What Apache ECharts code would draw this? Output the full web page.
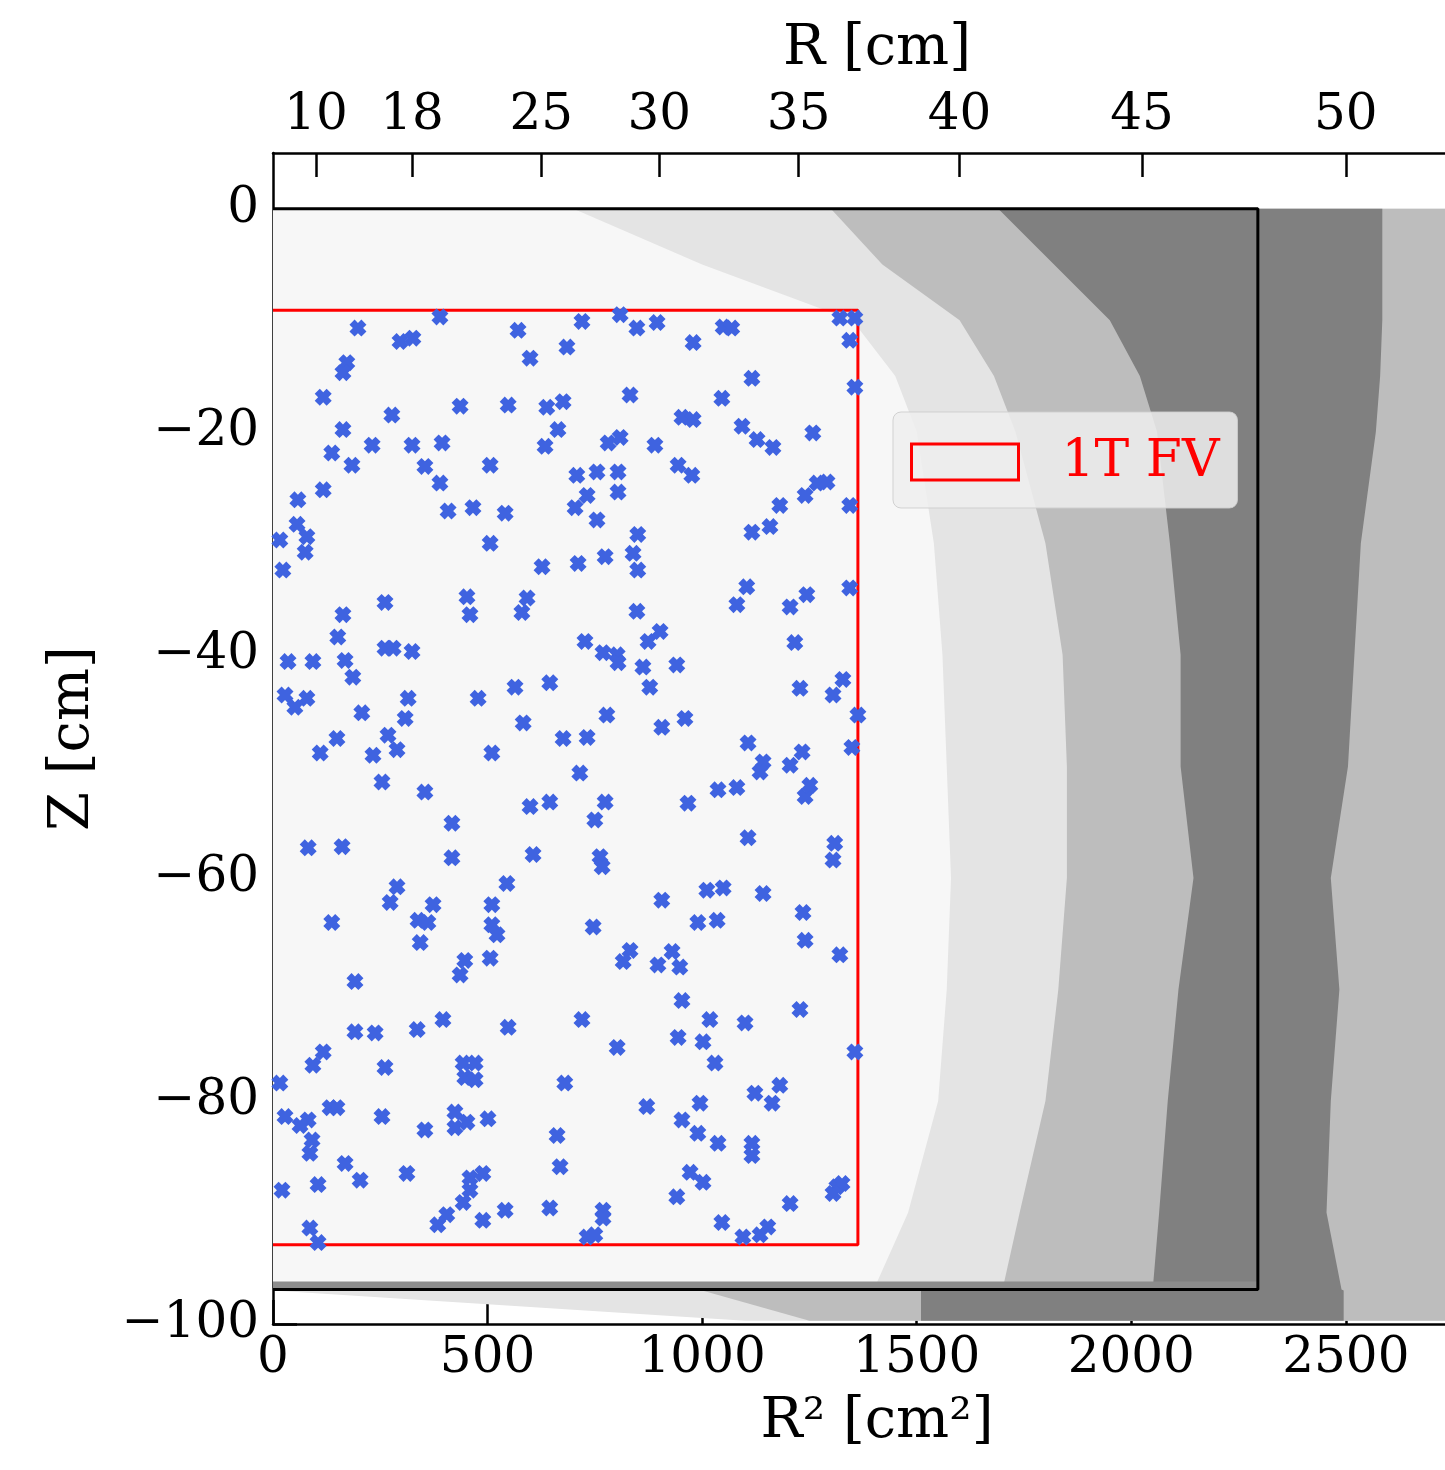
<!DOCTYPE html>
<html>
<head>
<meta charset="utf-8">
<script src="https://cdn.jsdelivr.net/npm/echarts@6/dist/echarts.min.js"></script>
<style>
html, body { margin: 0; padding: 0; background: #fff; }
#chart { width: 1445px; height: 1470px; }
</style>
</head>
<body>
<div id="chart"></div>
<script>
// axis ranges
var r2Max = 2815;
var zMin = -100, zMax = 5;
var rTickValues = [10, 18, 25, 30, 35, 40, 45, 50];   // top axis, R [cm]

// TPC boundary and 1T fiducial volume
var tpcR2 = 2295, tpcZBottom = -96.9;
var fvR2 = 1363, fvZTop = -9.1, fvZBottom = -92.9;

var zLevels   = [0, -5, -10, -15, -20, -30, -40, -50, -60, -70, -80, -90, -96.9, -97.0, -99.7];
var coreLeft  = [1690, 1820, 1950, 2020, 2060, 2090, 2115, 2115, 2145, 2110, 2085, 2065, 2050, 1510, 1510];
var coreRight = [2585, 2585, 2585, 2580, 2570, 2535, 2520, 2505, 2465, 2485, 2465, 2455, 2490, 2495, 2495];
var midLeft   = [1300, 1420, 1600, 1680, 1730, 1800, 1840, 1850, 1850, 1830, 1800, 1740, 1700, 1000, 1250];
var lightLeft = [700, 1000, 1350, 1450, 1500, 1540, 1560, 1570, 1580, 1570, 1550, 1480, 1400, 0, 1100];
var floorZ = [-96.2, -96.9];

// events inside the FV (blue x)
var evR2 = [
  389,198,296,326,571,599,685,172,163,117,436,548,638,676,277,163,664,634,231,324,394,137,184,354,506,389,117,58,408,466,541,56,79,16,75,506,23,627,261,452,592,163,459,580,
  720,809,848,895,979,1049,1069,1321,1356,1344,1116,1356,832,1046,953,979,781,809,890,1093,1128,1165,1258,944,976,708,755,804,804,732,704,755,1181,1240,1268,1291,1344,1116,1158,850,839,850,774,711,1104,1081,1205,1244,1344,848,
  151,261,280,324,35,93,168,186,28,79,51,207,315,308,268,149,110,233,289,254,354,478,564,645,583,676,510,417,599,645,82,161,417,606,545,289,273,373,510,137,338,361,510,
  727,769,802,804,874,902,862,941,878,1216,1228,1305,1328,1363,1349,778,906,960,732,1107,1142,1135,1205,1233,715,1037,1081,967,1240,1251,774,750,1107,1309,1305,762,767,1011,1049,1142,906,1235,990,1035,746,
  522,343,447,436,506,191,191,238,336,396,548,117,93,261,443,471,447,471,16,680,133,149,28,82,63,91,86,254,354,424,424,452,501,662,168,203,312,105,21,459,489,459,443,669,541,645,405,384,489,86,105,
  1240,1321,832,816,897,930,948,953,1228,720,1018,1100,944,1002,802,1356,1030,1123,1181,1163,995,871,953,990,1037,1116,1116,972,1002,1314,1326,1305,941,1205,769,769,1046,732,750,1095,1135,1153
];
var evZ = [
  -9.7,-10.7,-11.9,-11.6,-10.9,-13.4,-12.4,-13.8,-14.7,-16.9,-17.7,-17.6,-17.8,-17.3,-18.5,-19.8,-19.8,-21.3,-21.2,-21.2,-21.0,-21.9,-23.0,-23.1,-23.0,-24.6,-25.2,-26.1,-27.1,-26.8,-27.3,-28.3,-29.4,-29.7,-30.8,-30.0,-32.4,-32.1,-35.3,-34.8,-34.9,-36.4,-36.4,-36.2,
  -10.1,-9.5,-10.7,-10.2,-12.0,-10.6,-10.7,-9.8,-9.8,-11.8,-15.2,-16.0,-16.7,-17.0,-18.7,-18.9,-21.0,-20.5,-21.2,-19.5,-20.7,-21.4,-20.1,-23.0,-23.9,-23.9,-23.6,-23.6,-25.4,-25.7,-26.8,-27.9,-26.6,-25.7,-24.6,-24.5,-26.6,-29.0,-28.5,-29.2,-30.9,-32.4,-31.2,-31.8,-33.9,-35.5,-35.7,-34.6,-34.0,-36.1,
  -38.4,-39.4,-39.4,-39.7,-40.6,-40.6,-40.5,-42.0,-43.6,-43.9,-44.7,-45.2,-43.9,-45.7,-47.2,-47.5,-48.8,-49.0,-48.5,-51.4,-52.3,-43.9,-42.9,-42.5,-46.1,-47.5,-48.8,-55.1,-53.6,-53.2,-57.3,-57.2,-58.2,-57.9,-60.5,-60.8,-62.2,-62.4,-62.4,-64.0,-63.8,-64.0,-64.2,
  -38.8,-39.8,-40.0,-40.7,-38.8,-37.9,-41.1,-40.9,-42.9,-38.9,-43.0,-43.6,-42.2,-45.4,-48.3,-45.4,-46.5,-45.7,-47.4,-47.9,-49.6,-50.5,-49.9,-48.7,-50.6,-52.1,-51.9,-53.3,-52.7,-51.7,-53.2,-54.8,-56.4,-56.9,-58.4,-58.1,-59.0,-61.1,-60.9,-61.4,-62.0,-63.1,-64.0,-63.8,-64.4,
  -65.1,-65.8,-67.4,-68.7,-67.2,-69.3,-73.8,-73.9,-73.6,-72.7,-73.4,-75.6,-76.8,-77.0,-76.6,-76.6,-77.9,-78.1,-78.4,-78.4,-80.6,-80.6,-81.4,-81.7,-82.2,-83.5,-84.7,-81.4,-82.6,-81.0,-82.4,-81.9,-81.6,-83.1,-85.6,-87.1,-86.5,-87.5,-88.0,-86.9,-86.5,-88.0,-89.1,-85.9,-89.8,-89.6,-90.2,-91.1,-90.7,-91.4,-92.7,
  -65.6,-66.9,-66.5,-67.5,-67.8,-66.6,-68.0,-71.0,-71.8,-72.7,-72.7,-73.0,-74.3,-74.7,-75.2,-75.6,-76.6,-79.3,-78.6,-80.2,-80.2,-80.5,-81.7,-82.9,-83.8,-83.8,-84.9,-86.4,-87.3,-87.7,-87.4,-88.3,-88.6,-89.2,-89.8,-90.5,-90.9,-92.2,-92.0,-92.2,-92.0,-91.3
];

var FONT = 'DejaVu Serif';
var last = zLevels.length - 1;

function edge(xs) {
  return zLevels.map(function (z, i) { return [xs[i], z]; });
}
var basePoly = [[0, 0], [r2Max, 0], [r2Max, floorZ[1]], [0, floorZ[1]]];
var lightPoly = edge(lightLeft).concat([[r2Max, zLevels[last]], [r2Max, zLevels[0]]]);
var midPoly = edge(midLeft).concat([[r2Max, zLevels[last]], [r2Max, zLevels[0]]]);
var corePoly = edge(coreLeft).concat(edge(coreRight).reverse());
var floorPoly = [[0, floorZ[0]], [tpcR2, floorZ[0]], [tpcR2, floorZ[1]], [0, floorZ[1]]];

function area(points, color) {
  return {
    type: 'custom', silent: true, clip: true, z: 1,
    data: [[0, 0]],
    renderItem: function (params, api) {
      return {
        type: 'polygon',
        shape: { points: points.map(function (p) { return api.coord(p); }) },
        style: { fill: color }
      };
    }
  };
}

var events = evR2.map(function (r, i) { return [r, evZ[i]]; });
var rTicks = rTickValues.map(function (r) { return r * r; });

var chart = echarts.init(document.getElementById('chart'));

var axisCommon = {
  type: 'value',
  axisLine: { show: true, onZero: false, lineStyle: { color: '#000', width: 2.5 } },
  axisTick: { show: true, inside: true, length: 24, lineStyle: { color: '#000', width: 2.5 } },
  splitLine: { show: false },
  nameTextStyle: { color: '#000', fontFamily: FONT, fontSize: 56 }
};

var option = {
  backgroundColor: '#ffffff',
  animation: false,
  grid: { left: 273, top: 153, width: 1208, height: 1171, containLabel: false, outerBoundsMode: 'none' },
  legend: {
    data: [{ name: '1T FV', icon: 'rect' }],
    left: 893, top: 412,
    itemWidth: 107, itemHeight: 36,
    padding: [24, 18, 20, 17],
    backgroundColor: 'rgba(238,238,238,0.85)',
    borderColor: 'rgba(205,205,205,0.9)', borderWidth: 1, borderRadius: 8,
    itemStyle: { color: 'rgba(0,0,0,0)', borderColor: '#ff0000', borderWidth: 3 },
    textStyle: { color: '#ff0000', fontFamily: FONT, fontSize: 52, padding: [0, 0, 0, 38] }
  },
  xAxis: [
    Object.assign({}, axisCommon, {
      position: 'bottom', min: 0, max: r2Max, interval: 500,
      axisLabel: { color: '#000', fontFamily: FONT, fontSize: 50, margin: 10, showMaxLabel: false,
        formatter: function (v) { return String(v); } },
      name: 'R² [cm²]', nameLocation: 'middle', nameGap: 70
    }),
    Object.assign({}, axisCommon, {
      position: 'top', min: 0, max: r2Max,
      axisTick: { show: true, inside: true, length: 24, customValues: rTicks, lineStyle: { color: '#000', width: 2.5 } },
      axisLabel: { color: '#000', fontFamily: FONT, fontSize: 50, margin: 12, customValues: rTicks,
        formatter: function (v) { return String(Math.round(Math.sqrt(v))); } },
      name: 'R [cm]', nameLocation: 'middle', nameGap: 76
    })
  ],
  yAxis: Object.assign({}, axisCommon, {
    min: zMin, max: zMax, interval: 20,
    axisLabel: { color: '#000', fontFamily: FONT, fontSize: 50, margin: 14, showMaxLabel: false,
      formatter: function (v) { return v < 0 ? '\u2212' + Math.abs(v) : String(v); } },
    name: 'Z [cm]', nameLocation: 'middle', nameRotate: 90, nameGap: 172
  }),
  series: [
    area(basePoly, '#f7f7f7'),
    area(lightPoly, '#e4e4e4'),
    area(midPoly, '#bdbdbd'),
    area(corePoly, '#808080'),
    area(floorPoly, '#8c8c8c'),
    {
      name: 'TPC', type: 'line', silent: true, symbol: 'none', z: 3,
      lineStyle: { color: '#000', width: 3 },
      data: [[0, 0], [tpcR2, 0], [tpcR2, tpcZBottom], [0, tpcZBottom]]
    },
    {
      name: '1T FV', type: 'line', silent: true, symbol: 'none', z: 4,
      color: '#ff0000',
      lineStyle: { color: '#ff0000', width: 3 },
      data: [[0, fvZTop], [fvR2, fvZTop], [fvR2, fvZBottom], [0, fvZBottom]]
    },
    {
      name: 'events', type: 'scatter', silent: true, z: 5,
      symbol: 'path://M3,0 L5,2 L7,0 L10,3 L8,5 L10,7 L7,10 L5,8 L3,10 L0,7 L2,5 L0,3 Z',
      symbolSize: 17,
      itemStyle: { color: '#3f63e0', opacity: 1 },
      data: events
    }
  ]
};

chart.setOption(option);
</script>
</body>
</html>
